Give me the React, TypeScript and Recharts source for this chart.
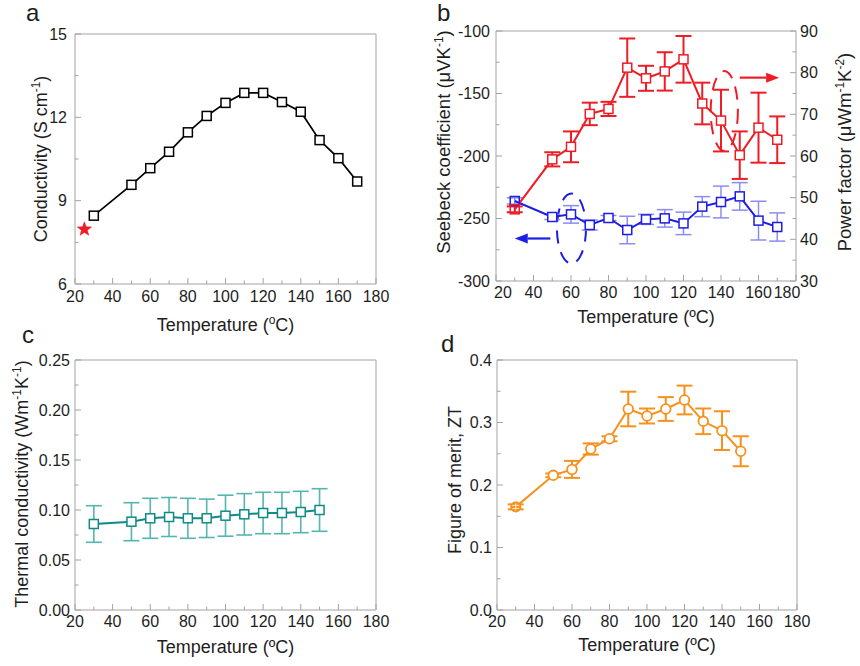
import React from "react";
import {
  ComposedChart,
  Line,
  Scatter,
  XAxis,
  YAxis,
  ErrorBar,
  ReferenceArea,
  ReferenceLine,
} from "recharts";

const FONT = "'Liberation Sans', Arial, Helvetica, sans-serif";
const FRAME = "#a3a3a3";
const INK = "#1e1e1e";
const RED = "#ee1c24";
const BLUE = "#1d1de6";
const BLUE_ERR = "#8c8cf0";
const TEAL = "#0f8a86";
const TEAL_ERR = "#55b5b0";
const ORANGE = "#f7911d";

// ---- shared x ticks ----
const xTicks = [20, 30, 40, 50, 60, 70, 80, 90, 100, 110, 120, 130, 140, 150, 160, 170, 180];
const xMajor = [20, 40, 60, 80, 100, 120, 140, 160, 180];

// ---- panel a: electrical conductivity ----
const tempA = [30, 50, 60, 70, 80, 90, 100, 110, 120, 130, 140, 150, 160, 170];
const conductivity = [8.46, 9.57, 10.17, 10.76, 11.46, 12.05, 12.52, 12.88, 12.88, 12.55, 12.2, 11.18, 10.53, 9.69];
const refTemp = [25];
const refConductivity = [7.97];
const yTicksA = [6, 7.5, 9, 10.5, 12, 13.5, 15];
const yMajorA = [6, 9, 12, 15];

// ---- panel b: Seebeck & power factor ----
const tempB = [30, 50, 60, 70, 80, 90, 100, 110, 120, 130, 140, 150, 160, 170];
const seebeck = [-236, -248.8, -246.7, -255.2, -249.6, -259.2, -250.7, -249.9, -253.9, -240.5, -236.8, -232.3, -251.7, -256.8];
const seebeckErr = [2.5, 2, 7, 4, 2, 11, 4, 7, 9, 8, 12.7, 11, 15.5, 11.3];
const powerFactor = [47.2, 59.2, 62.2, 70.1, 71.3, 81.2, 78.65, 80.3, 83.2, 72.6, 68.5, 60.2, 66.8, 63.9];
const powerFactorErr = [0.7, 1.7, 3.7, 2.7, 1.7, 7.0, 3.0, 4.6, 5.6, 5.0, 7.4, 5.7, 8.4, 5.6];
const yTicksBL = [-300, -275, -250, -225, -200, -175, -150, -125, -100];
const yMajorBL = [-300, -250, -200, -150, -100];
const yTicksBR = [30, 35, 40, 45, 50, 55, 60, 65, 70, 75, 80, 85, 90];
const yMajorBR = [30, 40, 50, 60, 70, 80, 90];

// ---- panel c: thermal conductivity ----
const tempC = [30, 50, 60, 70, 80, 90, 100, 110, 120, 130, 140, 150];
const thermal = [0.086, 0.0883, 0.0917, 0.093, 0.0917, 0.0917, 0.0943, 0.0957, 0.097, 0.097, 0.098, 0.1];
const thermalErr = [0.0183, 0.019, 0.02, 0.0195, 0.02, 0.0192, 0.0205, 0.0207, 0.0207, 0.0207, 0.0207, 0.0213];
const yTicksC = [0, 0.025, 0.05, 0.075, 0.1, 0.125, 0.15, 0.175, 0.2, 0.225, 0.25];
const yMajorC = [0, 0.05, 0.1, 0.15, 0.2, 0.25];

// ---- panel d: ZT ----
const tempD = [30, 50, 60, 70, 80, 90, 100, 110, 120, 130, 140, 150];
const zt = [0.165, 0.2155, 0.225, 0.2576, 0.274, 0.3216, 0.3104, 0.3216, 0.336, 0.3019, 0.287, 0.254];
const ztErr = [0.004, 0.003, 0.0136, 0.009, 0.004, 0.0277, 0.012, 0.019, 0.023, 0.0205, 0.031, 0.024];
const yTicksD = [0, 0.05, 0.1, 0.15, 0.2, 0.25, 0.3, 0.35, 0.4];
const yMajorD = [0, 0.1, 0.2, 0.3, 0.4];

// annotations in panel b (data coordinates)
const blueEllipse = { x1: 52.5, x2: 68, y1: -286, y2: -230 };
const redEllipse = { x1: 134.5, x2: 149, y1: -196, y2: -132 };
const redArrow = [{ x: 150, y: -137.3 }, { x: 171, y: -137.3 }];
const blueArrow = [{ x: 49, y: -266 }, { x: 30, y: -266 }];

const dataA = tempA.map((t, i) => ({ t, v: conductivity[i] }));
const dataStar = refTemp.map((t, i) => ({ t, v: refConductivity[i] }));
const dataB = tempB.map((t, i) => ({ t, s: seebeck[i], se: seebeckErr[i], pf: powerFactor[i], pfe: powerFactorErr[i] }));
const dataC = tempC.map((t, i) => ({ t, v: thermal[i], e: thermalErr[i] }));
const dataD = tempD.map((t, i) => ({ t, v: zt[i], e: ztErr[i] }));

type Side = "bottom" | "left" | "right";
function makeTick(
  side: Side,
  majors: number[],
  fmt: (v: number) => string,
  margin: number,
  labelShift: Record<string, number> = {}
) {
  return (props: any) => {
    const { x, y, payload } = props;
    const v = Number(payload.value);
    const major = majors.some((m) => Math.abs(m - v) < 1e-9);
    const len = major ? 6 : 3.5;
    const shift = labelShift[String(v)] || 0;
    let line: any;
    let label: any = null;
    const textProps = { fill: INK, fontSize: 16, fontFamily: FONT };
    if (side === "bottom") {
      const ay = y - margin;
      line = <line x1={x} x2={x} y1={ay} y2={ay - len} stroke={FRAME} strokeWidth={1} />;
      if (major)
        label = (
          <text x={x + shift} y={y} dy="0.71em" textAnchor="middle" {...textProps}>
            {fmt(v)}
          </text>
        );
    } else if (side === "left") {
      const ax = x + margin;
      line = <line x1={ax} x2={ax + len} y1={y} y2={y} stroke={FRAME} strokeWidth={1} />;
      if (major)
        label = (
          <text x={x} y={y} dy="0.355em" textAnchor="end" {...textProps}>
            {fmt(v)}
          </text>
        );
    } else {
      const ax = x - margin;
      line = <line x1={ax} x2={ax - len} y1={y} y2={y} stroke={FRAME} strokeWidth={1} />;
      if (major)
        label = (
          <text x={x} y={y} dy="0.355em" textAnchor="start" {...textProps}>
            {fmt(v)}
          </text>
        );
    }
    return (
      <g>
        {line}
        {label}
      </g>
    );
  };
}

function squareDot(color: string, firstT: number | null = null) {
  return (p: any) => {
    const s = 9;
    const isFirst = firstT !== null && p.payload && p.payload.t === firstT;
    return (
      <rect
        key={`sq-${p.index}-${p.cx}`}
        x={p.cx - s / 2}
        y={p.cy - s / 2}
        width={s}
        height={s}
        fill={isFirst ? "none" : "#fff"}
        stroke={color}
        strokeWidth={1.5}
      />
    );
  };
}

function circleDot(color: string, firstT: number) {
  return (p: any) => {
    if (p.payload && p.payload.t === firstT) {
      return (
        <g key={`c-first`}>
          <circle cx={p.cx} cy={p.cy} r={4.8} fill={color} stroke={color} strokeWidth={1.5} />
          <line x1={p.cx - 3.5} x2={p.cx + 3.5} y1={p.cy - 1.5} y2={p.cy - 1.5} stroke="#fff" strokeWidth={0.8} />
          <line x1={p.cx - 3.5} x2={p.cx + 3.5} y1={p.cy + 1.5} y2={p.cy + 1.5} stroke="#fff" strokeWidth={0.8} />
          <line x1={p.cx} x2={p.cx} y1={p.cy - 3.5} y2={p.cy + 3.5} stroke="#fff" strokeWidth={0.8} />
        </g>
      );
    }
    return <circle key={`c-${p.index}-${p.cx}`} cx={p.cx} cy={p.cy} r={4.8} fill="#fff" stroke={color} strokeWidth={1.8} />;
  };
}

const starShape = (p: any) => {
  const R = 7.5;
  const r = 3.1;
  const pts: string[] = [];
  for (let i = 0; i < 10; i++) {
    const a = -Math.PI / 2 + (i * Math.PI) / 5;
    const rr = i % 2 === 0 ? R : r;
    pts.push(`${p.cx + rr * Math.cos(a)},${p.cy + rr * Math.sin(a)}`);
  }
  return <polygon points={pts.join(" ")} fill={RED} stroke={RED} strokeWidth={0.5} />;
};

function ellipseShape(color: string, dash: string) {
  return (p: any) => (
    <ellipse
      cx={p.x + p.width / 2}
      cy={p.y + p.height / 2}
      rx={Math.abs(p.width) / 2}
      ry={Math.abs(p.height) / 2}
      fill="none"
      stroke={color}
      strokeWidth={2}
      strokeDasharray={dash}
    />
  );
}

function arrowShape(color: string) {
  return (p: any) => {
    const { x1, y1, x2, y2 } = p;
    const dx = x2 - x1;
    const dy = y2 - y1;
    const L = Math.sqrt(dx * dx + dy * dy) || 1;
    const ux = dx / L;
    const uy = dy / L;
    const hl = 13;
    const hw = 5;
    const bx = x2 - ux * hl;
    const by = y2 - uy * hl;
    return (
      <g>
        <line x1={x1} y1={y1} x2={bx} y2={by} stroke={color} strokeWidth={2.2} />
        <polygon
          points={`${x2},${y2} ${bx - uy * hw},${by + ux * hw} ${bx + uy * hw},${by - ux * hw}`}
          fill={color}
        />
      </g>
    );
  };
}

const fmtInt = (v: number) => String(v);
const fmt2 = (v: number) => v.toFixed(2);
const fmt1 = (v: number) => v.toFixed(1);

const X_MARGIN = 7;

function PanelA() {
  return (
    <ComposedChart width={430} height={345} margin={{ top: 34, right: 54, bottom: 31, left: 25 }}>
      <XAxis
        type="number"
        dataKey="t"
        domain={[20, 180]}
        ticks={xTicks}
        interval={0}
        tickSize={0}
        tickMargin={X_MARGIN}
        axisLine={false}
        tickLine={false}
        tick={makeTick("bottom", xMajor, fmtInt, X_MARGIN)}
        height={30}
        allowDataOverflow
      />
      <YAxis
        type="number"
        domain={[6, 15]}
        ticks={yTicksA}
        interval={0}
        tickSize={0}
        tickMargin={8}
        axisLine={false}
        tickLine={false}
        tick={makeTick("left", yMajorA, fmtInt, 8)}
        width={50}
        allowDataOverflow
      />
      <ReferenceArea x1={20} x2={180} y1={6} y2={15} fill="none" stroke={FRAME} strokeWidth={1} ifOverflow="visible" />
      <Line
        data={dataA}
        dataKey="v"
        stroke="#000"
        strokeWidth={1.7}
        dot={squareDot("#000")}
        isAnimationActive={false}
      />
      <Scatter data={dataStar} dataKey="v" shape={starShape} isAnimationActive={false} />
    </ComposedChart>
  );
}

function PanelB() {
  return (
    <ComposedChart width={430} height={345} data={dataB} margin={{ top: 31, right: 14, bottom: 34, left: 16 }}>
      <XAxis
        type="number"
        dataKey="t"
        domain={[20, 180]}
        ticks={xTicks}
        interval={0}
        tickSize={0}
        tickMargin={6}
        axisLine={false}
        tickLine={false}
        tick={makeTick("bottom", xMajor, fmtInt, 6, { "20": 7, "180": -9 })}
        height={30}
        allowDataOverflow
      />
      <YAxis
        yAxisId="left"
        type="number"
        domain={[-300, -100]}
        ticks={yTicksBL}
        interval={0}
        tickSize={0}
        tickMargin={6}
        axisLine={false}
        tickLine={false}
        tick={makeTick("left", yMajorBL, fmtInt, 6)}
        width={50}
        allowDataOverflow
      />
      <YAxis
        yAxisId="right"
        orientation="right"
        type="number"
        domain={[30, 90]}
        ticks={yTicksBR}
        interval={0}
        tickSize={0}
        tickMargin={4}
        axisLine={false}
        tickLine={false}
        tick={makeTick("right", yMajorBR, fmtInt, 4)}
        width={50}
        allowDataOverflow
      />
      <ReferenceArea
        yAxisId="left"
        x1={20}
        x2={180}
        y1={-300}
        y2={-100}
        fill="none"
        stroke={FRAME}
        strokeWidth={1}
        ifOverflow="visible"
      />
      <ReferenceArea
        yAxisId="left"
        x1={blueEllipse.x1}
        x2={blueEllipse.x2}
        y1={blueEllipse.y1}
        y2={blueEllipse.y2}
        ifOverflow="visible"
        shape={ellipseShape(BLUE, "13 9")}
      />
      <ReferenceArea
        yAxisId="left"
        x1={redEllipse.x1}
        x2={redEllipse.x2}
        y1={redEllipse.y1}
        y2={redEllipse.y2}
        ifOverflow="visible"
        shape={ellipseShape(RED, "13 9")}
      />
      <ReferenceLine yAxisId="left" segment={redArrow} ifOverflow="visible" shape={arrowShape(RED)} />
      <ReferenceLine yAxisId="left" segment={blueArrow} ifOverflow="visible" shape={arrowShape(BLUE)} />
      <Line
        yAxisId="left"
        dataKey="s"
        stroke={BLUE}
        strokeWidth={2}
        dot={squareDot(BLUE, tempB[0])}
        isAnimationActive={false}
      >
        <ErrorBar dataKey="se" direction="y" width={8} stroke={BLUE_ERR} strokeWidth={1.5} />
      </Line>
      <Line
        yAxisId="right"
        dataKey="pf"
        stroke={RED}
        strokeWidth={2}
        dot={squareDot(RED, tempB[0])}
        isAnimationActive={false}
      >
        <ErrorBar dataKey="pfe" direction="y" width={8} stroke={RED} strokeWidth={2} />
      </Line>
    </ComposedChart>
  );
}

function PanelC() {
  return (
    <ComposedChart width={430} height={336} data={dataC} margin={{ top: 30, right: 54, bottom: 26, left: 25 }}>
      <XAxis
        type="number"
        dataKey="t"
        domain={[20, 180]}
        ticks={xTicks}
        interval={0}
        tickSize={0}
        tickMargin={6}
        axisLine={false}
        tickLine={false}
        tick={makeTick("bottom", xMajor, fmtInt, 6)}
        height={30}
        allowDataOverflow
      />
      <YAxis
        type="number"
        domain={[0, 0.25]}
        ticks={yTicksC}
        interval={0}
        tickSize={0}
        tickMargin={5}
        axisLine={false}
        tickLine={false}
        tick={makeTick("left", yMajorC, fmt2, 5)}
        width={50}
        allowDataOverflow
      />
      <ReferenceArea x1={20} x2={180} y1={0} y2={0.25} fill="none" stroke={FRAME} strokeWidth={1} ifOverflow="visible" />
      <Line dataKey="v" stroke={TEAL} strokeWidth={2} dot={squareDot(TEAL)} isAnimationActive={false}>
        <ErrorBar dataKey="e" direction="y" width={8} stroke={TEAL_ERR} strokeWidth={1.6} />
      </Line>
    </ComposedChart>
  );
}

function PanelD() {
  return (
    <ComposedChart width={430} height={336} data={dataD} margin={{ top: 30, right: 63, bottom: 26, left: 17 }}>
      <XAxis
        type="number"
        dataKey="t"
        domain={[20, 180]}
        ticks={xTicks}
        interval={0}
        tickSize={0}
        tickMargin={6}
        axisLine={false}
        tickLine={false}
        tick={makeTick("bottom", xMajor, fmtInt, 6)}
        height={30}
        allowDataOverflow
      />
      <YAxis
        type="number"
        domain={[0, 0.4]}
        ticks={yTicksD}
        interval={0}
        tickSize={0}
        tickMargin={5}
        axisLine={false}
        tickLine={false}
        tick={makeTick("left", yMajorD, fmt1, 5)}
        width={50}
        allowDataOverflow
      />
      <ReferenceArea x1={20} x2={180} y1={0} y2={0.4} fill="none" stroke={FRAME} strokeWidth={1} ifOverflow="visible" />
      <Line dataKey="v" stroke={ORANGE} strokeWidth={2} dot={circleDot(ORANGE, tempD[0])} isAnimationActive={false}>
        <ErrorBar dataKey="e" direction="y" width={8} stroke={ORANGE} strokeWidth={2} />
      </Line>
    </ComposedChart>
  );
}

function Titles() {
  const t = { fontFamily: FONT, fill: INK };
  const S = 12; // superscript size
  const U = 7; // superscript rise
  return (
    <svg
      width={860}
      height={666}
      style={{ position: "absolute", left: 0, top: 0, pointerEvents: "none" }}
    >
      {/* panel letters */}
      <text x={26} y={21} fontSize={24} {...t}>a</text>
      <text x={437} y={21} fontSize={24} {...t}>b</text>
      <text x={22} y={343} fontSize={24} {...t}>c</text>
      <text x={441} y={352} fontSize={24} {...t}>d</text>

      {/* x titles */}
      <text x={225.5} y={331} fontSize={18} textAnchor="middle" {...t}>
        <tspan>Temperature (</tspan>
        <tspan dy={-U} fontSize={S}>o</tspan>
        <tspan dy={U}>C)</tspan>
      </text>
      <text x={646} y={323} fontSize={18} textAnchor="middle" {...t}>
        Temperature (ºC)
      </text>
      <text x={225.5} y={653} fontSize={18} textAnchor="middle" {...t}>
        Temperature (ºC)
      </text>
      <text x={647} y={651} fontSize={18} textAnchor="middle" {...t}>
        Temperature (ºC)
      </text>

      {/* y titles */}
      <text x={47} y={159} fontSize={18} textAnchor="middle" transform="rotate(-90 47 159)" {...t}>
        <tspan>Conductivity (S cm</tspan>
        <tspan dy={-U} fontSize={S}>-1</tspan>
        <tspan dy={U}>)</tspan>
      </text>
      <text x={450} y={142} fontSize={18.5} textAnchor="middle" transform="rotate(-90 450 142)" {...t}>
        <tspan>Seebeck coefficient (μVK</tspan>
        <tspan dy={-U} fontSize={S}>-1</tspan>
        <tspan dy={U}>)</tspan>
      </text>
      <text x={851} y={152} fontSize={18.5} textAnchor="middle" transform="rotate(-90 851 152)" {...t}>
        <tspan>Power factor (μWm</tspan>
        <tspan dy={-U} fontSize={S}>-1</tspan>
        <tspan dy={U}>K</tspan>
        <tspan dy={-U} fontSize={S}>-2</tspan>
        <tspan dy={U}>)</tspan>
      </text>
      <text x={28} y={484} fontSize={18} textAnchor="middle" transform="rotate(-90 28 484)" {...t}>
        <tspan>Thermal conductivity (Wm</tspan>
        <tspan dy={-U} fontSize={S}>-1</tspan>
        <tspan dy={U}>K</tspan>
        <tspan dy={-U} fontSize={S}>-1</tspan>
        <tspan dy={U}>)</tspan>
      </text>
      <text x={461} y={480} fontSize={18} textAnchor="middle" transform="rotate(-90 461 480)" {...t}>
        Figure of merit, ZT
      </text>
    </svg>
  );
}

export default function App() {
  return (
    <div
      style={{
        position: "fixed",
        left: 0,
        top: 0,
        width: 860,
        height: 666,
        background: "#fff",
        fontFamily: FONT,
        overflow: "hidden",
      }}
    >
      <div style={{ position: "absolute", left: 0, top: 0 }}>
        <PanelA />
      </div>
      <div style={{ position: "absolute", left: 430, top: 0 }}>
        <PanelB />
      </div>
      <div style={{ position: "absolute", left: 0, top: 330 }}>
        <PanelC />
      </div>
      <div style={{ position: "absolute", left: 430, top: 330 }}>
        <PanelD />
      </div>
      <Titles />
    </div>
  );
}
